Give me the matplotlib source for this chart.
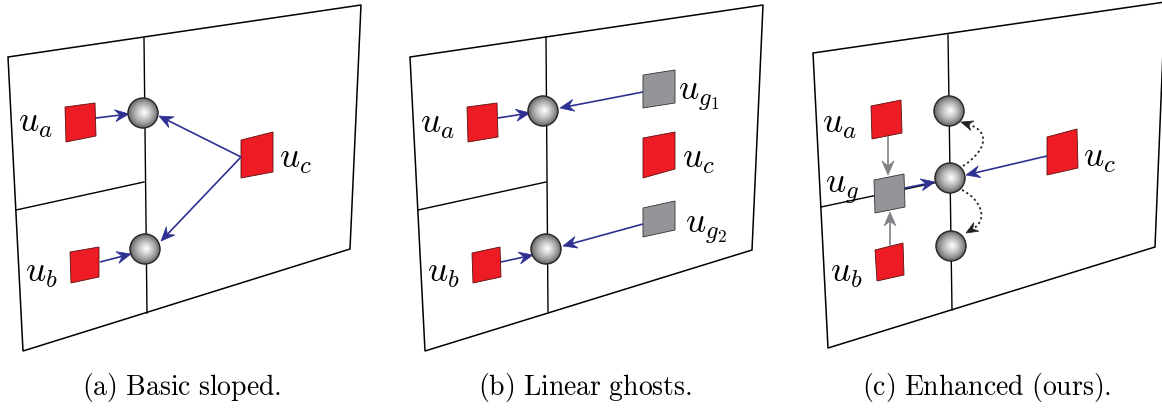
import matplotlib.pyplot as plt
import numpy as np
from matplotlib.patches import Polygon, Circle
from matplotlib.path import Path
from matplotlib.patches import PathPatch

plt.rcParams['mathtext.fontset'] = 'cm'

W, H = 1162, 408

RED = '#ed1c24'
GHOST = '#939598'
BLUE = '#2e3192'
GRAYARROW = '#808285'

# ---- panel (a): basic sloped ----
frame_a = [(8, 57), (361, 5), (350, 249), (23, 351)]
vline_a = [(144, 38), (147, 313)]
hline_a = [(16, 210), (144, 182)]
spheres_a = [(143, 113), (145, 249)]
cells_a = {
    'ua': [(65, 107), (95, 103), (96, 136), (66, 142)],
    'ub': [(70, 252), (99, 247), (99, 277), (71, 283)],
    'uc': [(241, 140), (273, 132), (273, 172), (241, 178)],
}
ghosts_a = {}
arrows_a = [((96, 118), (129, 114)), ((100, 262), (131, 254)),
            ((241, 157), (159, 116)), ((241, 157), (161, 241))]
labels_a = [('u_a', 18, 132), ('u_b', 25, 282), ('u_c', 279, 168)]

# ---- panel (b): linear ghosts ----
frame_b = [(410, 57), (763, 5), (752, 250), (425, 351)]
vline_b = [(546, 37), (548, 312)]
hline_b = [(418, 210), (546, 182)]
spheres_b = [(543, 111), (546, 249)]
cells_b = {
    'ua': [(467, 107), (497, 103), (498, 137), (468, 142)],
    'ub': [(472, 253), (500, 247), (501, 277), (473, 283)],
    'uc': [(643, 138), (675, 132), (675, 169), (643, 178)],
}
ghosts_b = {
    'ug1': [(643, 75), (675, 70), (675, 103), (643, 108)],
    'ug2': [(643, 208), (675, 201), (675, 230), (643, 237)],
}
arrows_b = [((498, 118), (530, 113)), ((501, 262), (533, 255)),
            ((643, 92), (560, 108)), ((643, 224), (563, 246))]
labels_b = [('u_a', 420, 133), ('u_b', 427, 282), ('u_{g_1}', 678, 100),
            ('u_c', 682, 168), ('u_{g_2}', 685, 233)]

# ---- panel (c): enhanced ----
frame_c = [(813, 53), (1165, 2), (1155, 247), (828, 348)]
vline_c = [(948, 35), (952, 310)]
hline_c = [(821, 207), (948, 180)]
spheres_c = [(949, 111), (950, 178), (951, 246)]
cells_c = {
    'ua': [(871, 106), (901, 100), (902, 133), (872, 139)],
    'ub': [(875, 250), (903, 243), (904, 275), (877, 281)],
    'uc': [(1047, 137), (1077, 129), (1078, 168), (1047, 175)],
}
ghosts_c = {
    'ug': [(874, 180), (904, 174), (905, 207), (875, 213)],
}
arrows_c = [((905, 188), (935, 182)), ((1047, 156), (966, 175))]
gray_arrows_c = [((888, 136), (888, 175)), ((890, 246), (890, 212))]
dotted_c = [[(963, 166), (985, 152), (992, 132), (961, 122)],
            [(962, 190), (982, 200), (988, 220), (966, 233)]]
labels_c = [('u_a', 822, 133), ('u_g', 825, 193), ('u_b', 830, 282),
            ('u_c', 1083, 167)]

captions = ['(a)\\ Basic\\ sloped.', '(b)\\ Linear\\ ghosts.',
            '(c)\\ Enhanced\\ (ours).']
caption_x = [182, 585, 987]
caption_y = 395


def stealth(ax, tip, d, color, L=14, Wd=6, z=6):
    d = np.asarray(d, float)
    d = d / np.hypot(*d)
    n = np.array([-d[1], d[0]])
    tip = np.asarray(tip, float)
    pts = [tip, tip - L * d + Wd * n, tip - 0.65 * L * d, tip - L * d - Wd * n]
    ax.add_patch(Polygon(pts, closed=True, fc=color, ec=color, lw=0.5, zorder=z))


def arrow(ax, start, tip, color, lw=1.2):
    s = np.asarray(start, float)
    t = np.asarray(tip, float)
    d = t - s
    d = d / np.hypot(*d)
    ax.plot([s[0], t[0] - 8 * d[0]], [s[1], t[1] - 8 * d[1]],
            color=color, lw=lw, solid_capstyle='butt', zorder=5)
    stealth(ax, t, d, color)


def dotted_arrow(ax, ctrl):
    p = np.asarray(ctrl, float)
    d = p[3] - p[2]
    d = d / np.hypot(*d)
    end = p[3] - 8 * d
    verts = [p[0], p[1], p[2], end]
    path = Path(verts, [Path.MOVETO, Path.CURVE4, Path.CURVE4, Path.CURVE4])
    ax.add_patch(PathPatch(path, fc='none', ec='#222222', lw=1.3,
                           ls=(0, (1.2, 1.6)), zorder=5))
    stealth(ax, p[3], d, '#222222', L=12, Wd=5)


def sphere(ax, c, r=15):
    cx, cy = c
    n = 40
    for i in range(n):
        f = i / (n - 1)
        rr = r * (1 - f) + 0.3
        g = 0.32 + 0.68 * f ** 0.7
        ox, oy = 1.5 * f, -0.5 * f
        ax.add_patch(Circle((cx + ox, cy + oy), rr, fc=(g, g, g), ec='none',
                            zorder=7))
    ax.add_patch(Circle((cx, cy), r, fc='none', ec='#2a2a2a', lw=1.0, zorder=8))


def panel(ax, frame, vline, hline, spheres, cells, ghosts, arrows, labels):
    ax.add_patch(Polygon(frame, closed=True, fc='white', ec='black', lw=1.1,
                         zorder=1))
    ax.plot(*zip(*vline), color='black', lw=1.0, zorder=2)
    ax.plot(*zip(*hline), color='black', lw=1.0, zorder=2)
    for pts in cells.values():
        ax.add_patch(Polygon(pts, closed=True, fc=RED, ec='#5a1010', lw=0.6,
                             zorder=4))
    for pts in ghosts.values():
        ax.add_patch(Polygon(pts, closed=True, fc=GHOST, ec='#333333', lw=0.6,
                             zorder=4))
    for s, t in arrows:
        arrow(ax, s, t, BLUE)
    for c in spheres:
        sphere(ax, c)
    for txt, x, y in labels:
        ax.text(x, y, '$' + txt + '$', fontsize=25.5, ha='left', va='baseline',
                zorder=9)


fig = plt.figure(figsize=(W / 100, H / 100), dpi=100)
ax = fig.add_axes([0, 0, 1, 1])
ax.set_xlim(0, W)
ax.set_ylim(H, 0)
ax.axis('off')

panel(ax, frame_a, vline_a, hline_a, spheres_a, cells_a, ghosts_a, arrows_a, labels_a)
panel(ax, frame_b, vline_b, hline_b, spheres_b, cells_b, ghosts_b, arrows_b, labels_b)
panel(ax, frame_c, vline_c, hline_c, spheres_c, cells_c, ghosts_c, arrows_c, labels_c)

for s, t in gray_arrows_c:
    arrow(ax, s, t, GRAYARROW)
for ctrl in dotted_c:
    dotted_arrow(ax, ctrl)

for cap, x in zip(captions, caption_x):
    ax.text(x, caption_y, '$\\mathrm{' + cap + '}$', fontsize=20,
            ha='center', va='baseline')

fig.savefig('out.png', dpi=100)
